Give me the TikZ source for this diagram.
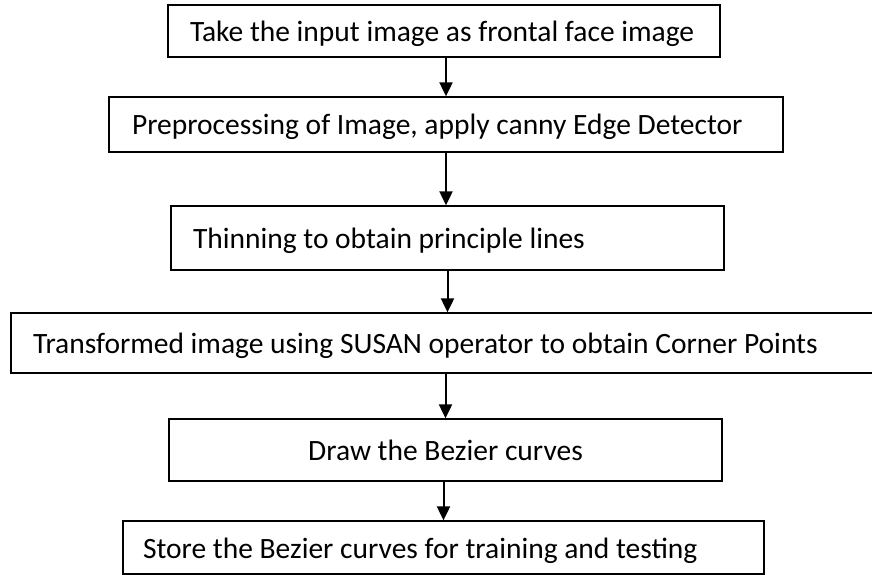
\documentclass[tikz,border=0pt]{standalone}
\usepackage{fontspec}
\setmainfont{Carlito}
\usetikzlibrary{arrows.meta}
\newcommand\padtext[3]{\makebox[#1pt][l]{\hspace*{#2pt}#3}}
\tikzset{
  stepbox/.style={draw, line width=1.3pt, inner xsep=0pt, inner ysep=0pt,
    font=\fontsize{29.5}{34}\selectfont},
  flowarrow/.style={line width=2pt, -{Triangle[length=14pt,width=13pt]}},
}
\begin{document}
\begin{tikzpicture}[x=1pt,y=-1pt]
\useasboundingbox (0,0) rectangle (872,575);
\node[stepbox, text height=36.5pt, text depth=15.5pt] (b1) at (444,31)
  {\padtext{552}{22}{Take the input image as frontal face image}};
\node[stepbox, text height=38pt, text depth=17pt] (b2) at (446,124.5)
  {\padtext{674}{23}{Preprocessing of Image, apply canny Edge Detector}};
\node[stepbox, text height=42.5pt, text depth=21.5pt] (b3) at (447.5,238)
  {\padtext{553}{22}{Thinning to obtain principle lines}};
\node[stepbox, text height=40.5pt, text depth=19.5pt] (b4) at (442,343)
  {\padtext{862}{22}{Transformed image using SUSAN operator to obtain Corner Points}};
\node[stepbox, text height=41.5pt, text depth=20.5pt] (b5) at (445.5,450)
  {\makebox[553pt][c]{Draw the Bezier curves}};
\node[stepbox, text height=37pt, text depth=16pt] (b6) at (443.5,547.5)
  {\padtext{641}{20}{Store the Bezier curves for training and testing}};
\draw[flowarrow] (b2.north |- b1.south) -- (b2.north);
\draw[flowarrow] (b2.south) -- (b2.south |- b3.north);
\draw[flowarrow] (b3.south) -- (b3.south |- b4.north);
\draw[flowarrow] (b5.north |- b4.south) -- (b5.north);
\draw[flowarrow] (b6.north |- b5.south) -- (b6.north);
\end{tikzpicture}
\end{document}
